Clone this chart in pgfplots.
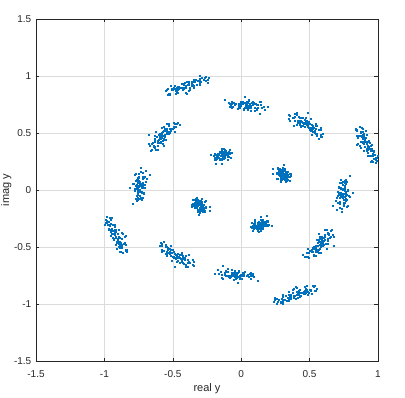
\documentclass[border=0pt]{standalone}
\usepackage{fontspec}
\setmainfont{Liberation Sans}
\usepackage{pgfplots}
\pgfplotsset{compat=1.18}
\definecolor{mblue}{RGB}{0,114,189}
\definecolor{axgray}{RGB}{38,38,38}
\begin{document}
\begin{tikzpicture}
\begin{axis}[
 width=342pt, height=342pt, scale only axis,
 xmin=-1.5, xmax=1, ymin=-1.5, ymax=1.5,
 xtick={-1.5,-1,-0.5,0,0.5,1}, xticklabels={-1.5,-1,-0.5,0,0.5,1},
 ytick={-1.5,-1,-0.5,0,0.5,1,1.5}, yticklabels={-1.5,-1,-0.5,0,0.5,1,1.5},
 grid=major, major grid style={draw=black!14, line width=0.4pt},
 axis line style={draw=axgray, line width=0.5pt},
 tick style={draw=axgray, line width=0.5pt}, major tick length=3.5pt,
 tick align=inside,
 ticklabel style={font=\fontsize{10}{12}\selectfont, text=axgray},
 xticklabel style={yshift=-5.7pt},
 yticklabel style={xshift=-1.2pt},
 xlabel={real y}, ylabel={imag y},
 label style={font=\fontsize{11}{13}\selectfont, text=axgray, inner sep=0pt},
 xlabel style={at={(axis description cs:0.5,-0.0658)}, anchor=north},
 ylabel style={at={(axis description cs:-0.0711,0.5)}, anchor=south},
 clip=true,
]
\addplot[only marks, mark=square*, mark size=0.5pt, color=mblue, mark options={draw=none, fill=mblue}] coordinates {
% corner D
(0.919,0.407) (0.917,0.363) (0.877,0.500) (0.965,0.276) (0.842,0.523) (0.951,0.400) (0.877,0.425) (0.946,0.356) (0.887,0.508) (0.957,0.257)
(0.887,0.419) (0.897,0.493) (0.949,0.341) (0.836,0.539) (0.923,0.325) (0.931,0.436) (0.978,0.306) (0.842,0.479) (0.925,0.381) (0.881,0.464)
(0.959,0.304) (0.872,0.476) (0.923,0.392) (0.933,0.428) (0.964,0.247) (0.862,0.472) (0.969,0.344) (0.895,0.407) (0.984,0.238) (0.867,0.553)
(0.922,0.305) (0.897,0.415) (0.901,0.380) (0.907,0.462) (0.951,0.297) (0.909,0.457) (0.953,0.345) (0.837,0.525) (0.953,0.352) (0.891,0.454)
(0.949,0.387) (0.877,0.373) (0.887,0.540) (0.945,0.246) (0.882,0.543) (0.941,0.360) (0.897,0.455) (0.916,0.346) (0.887,0.478) (0.987,0.287)
(0.847,0.399) (0.917,0.483) (0.929,0.381) (0.876,0.509) (0.893,0.345) (0.941,0.416) (0.968,0.336) (0.872,0.479) (0.885,0.421) (0.901,0.424)
(0.939,0.304) (0.912,0.516) (0.923,0.352) (0.903,0.458) (0.984,0.267) (0.852,0.462) (0.999,0.304) (0.855,0.407) (0.994,0.258) (0.847,0.533)
(0.962,0.315) (0.867,0.385) (0.921,0.420) (0.897,0.472) (0.981,0.287) (0.889,0.487) (0.953,0.365) (0.877,0.505) (0.923,0.362) (0.901,0.444)
% middle C
(0.477,0.571) (0.487,0.557) (0.427,0.634) (0.548,0.495) (0.383,0.632) (0.514,0.576) (0.429,0.575) (0.524,0.563) (0.432,0.631) (0.549,0.493)
(0.448,0.591) (0.448,0.634) (0.515,0.527) (0.374,0.634) (0.498,0.528) (0.485,0.590) (0.564,0.530) (0.391,0.609) (0.489,0.561) (0.434,0.610)
(0.539,0.518) (0.416,0.594) (0.491,0.582) (0.492,0.596) (0.553,0.478) (0.412,0.609) (0.542,0.542) (0.451,0.565) (0.583,0.486) (0.407,0.657)
(0.505,0.523) (0.449,0.565) (0.464,0.556) (0.457,0.594) (0.538,0.524) (0.467,0.621) (0.528,0.548) (0.380,0.638) (0.521,0.542) (0.444,0.600)
(0.437,0.551) (0.507,0.547) (0.407,0.674) (0.588,0.465) (0.353,0.652) (0.524,0.556) (0.419,0.605) (0.554,0.563) (0.392,0.671) (0.569,0.453)
(0.428,0.591) (0.488,0.674) (0.515,0.487) (0.344,0.664) (0.518,0.548) (0.475,0.580) (0.594,0.490) (0.351,0.609) (0.499,0.581) (0.414,0.590)
(0.579,0.528) (0.386,0.564) (0.511,0.622) (0.482,0.606) (0.583,0.468) (0.392,0.639) (0.542,0.562) (0.491,0.545) (0.553,0.496) (0.417,0.647)
(0.535,0.503) (0.409,0.575) (0.474,0.596) (0.437,0.564) (0.578,0.544) (0.457,0.581) (0.548,0.578) (0.350,0.628) (0.521,0.512) (0.474,0.630)
% middle E
(0.755,-0.035) (0.722,-0.067) (0.745,0.047) (0.746,-0.142) (0.733,0.064) (0.774,-0.037) (0.726,-0.023) (0.739,-0.070) (0.764,0.052) (0.720,-0.152)
(0.714,-0.020) (0.755,0.042) (0.763,-0.092) (0.740,0.076) (0.719,-0.102) (0.776,-0.010) (0.754,-0.109) (0.714,0.024) (0.743,-0.055) (0.735,0.015)
(0.747,-0.117) (0.754,0.019) (0.732,-0.040) (0.764,-0.013) (0.731,-0.164) (0.725,0.020) (0.771,-0.085) (0.735,-0.038) (0.735,-0.164) (0.762,0.092)
(0.706,-0.114) (0.746,-0.033) (0.724,-0.057) (0.775,0.007) (0.723,-0.117) (0.745,0.015) (0.749,-0.082) (0.723,0.067) (0.762,-0.080) (0.745,0.005)
(0.735,-0.035) (0.762,-0.027) (0.745,0.007) (0.716,-0.112) (0.753,0.084) (0.764,-0.047) (0.756,-0.063) (0.699,-0.070) (0.774,0.072) (0.700,-0.172)
(0.754,-0.010) (0.725,0.012) (0.783,-0.052) (0.730,0.086) (0.749,-0.112) (0.756,0.020) (0.754,-0.089) (0.754,0.004) (0.713,-0.045) (0.745,0.005)
(0.777,-0.137) (0.714,0.029) (0.742,0.000) (0.744,-0.043) (0.771,-0.144) (0.715,-0.020) (0.791,-0.055) (0.705,-0.048) (0.735,-0.194) (0.792,0.122)
(0.666,-0.134) (0.766,-0.043) (0.704,-0.017) (0.815,-0.023) (0.693,-0.097) (0.755,-0.005) (0.739,-0.052) (0.753,0.067) (0.722,-0.040) (0.765,-0.035)
% inner N
(0.312,0.129) (0.292,0.128) (0.293,0.180) (0.330,0.079) (0.276,0.176) (0.336,0.140) (0.278,0.128) (0.316,0.139) (0.310,0.177) (0.315,0.087)
(0.275,0.153) (0.306,0.184) (0.329,0.094) (0.282,0.175) (0.294,0.102) (0.330,0.145) (0.341,0.116) (0.262,0.154) (0.308,0.127) (0.287,0.161)
(0.327,0.096) (0.299,0.140) (0.300,0.151) (0.324,0.156) (0.324,0.070) (0.274,0.157) (0.343,0.115) (0.291,0.122) (0.339,0.088) (0.305,0.199)
(0.288,0.102) (0.298,0.118) (0.286,0.120) (0.323,0.140) (0.312,0.113) (0.302,0.179) (0.324,0.122) (0.268,0.183) (0.330,0.111) (0.297,0.151)
(0.352,0.139) (0.262,0.098) (0.313,0.220) (0.320,0.089) (0.306,0.166) (0.316,0.170) (0.278,0.148) (0.356,0.119) (0.280,0.187) (0.325,0.077)
(0.305,0.133) (0.266,0.194) (0.339,0.134) (0.262,0.145) (0.334,0.122) (0.320,0.105) (0.361,0.146) (0.232,0.144) (0.308,0.097) (0.317,0.191)
(0.287,0.076) (0.319,0.130) (0.280,0.191) (0.364,0.126) (0.294,0.090) (0.284,0.137) (0.333,0.145) (0.321,0.122) (0.299,0.128) (0.325,0.159)
(0.268,0.102) (0.338,0.158) (0.286,0.080) (0.293,0.170) (0.332,0.133) (0.292,0.169) (0.354,0.082) (0.228,0.183) (0.340,0.131) (0.277,0.131)
% corner A
(-0.407,0.919) (-0.363,0.917) (-0.500,0.877) (-0.276,0.965) (-0.523,0.842) (-0.400,0.951) (-0.425,0.877) (-0.356,0.946) (-0.508,0.887) (-0.257,0.957)
(-0.419,0.887) (-0.493,0.897) (-0.341,0.949) (-0.539,0.836) (-0.325,0.923) (-0.436,0.931) (-0.306,0.978) (-0.479,0.842) (-0.381,0.925) (-0.464,0.881)
(-0.304,0.959) (-0.476,0.872) (-0.392,0.923) (-0.428,0.933) (-0.247,0.964) (-0.472,0.862) (-0.344,0.969) (-0.407,0.895) (-0.238,0.984) (-0.553,0.867)
(-0.305,0.922) (-0.415,0.897) (-0.380,0.901) (-0.462,0.907) (-0.297,0.951) (-0.457,0.909) (-0.345,0.953) (-0.525,0.837) (-0.352,0.953) (-0.454,0.891)
(-0.387,0.949) (-0.373,0.877) (-0.540,0.887) (-0.246,0.945) (-0.543,0.882) (-0.360,0.941) (-0.455,0.897) (-0.346,0.916) (-0.478,0.887) (-0.287,0.987)
(-0.399,0.847) (-0.483,0.917) (-0.381,0.929) (-0.509,0.876) (-0.345,0.893) (-0.416,0.941) (-0.336,0.968) (-0.479,0.872) (-0.421,0.885) (-0.424,0.901)
(-0.304,0.939) (-0.516,0.912) (-0.352,0.923) (-0.458,0.903) (-0.267,0.984) (-0.462,0.852) (-0.304,0.999) (-0.407,0.855) (-0.258,0.994) (-0.533,0.847)
(-0.315,0.962) (-0.385,0.867) (-0.420,0.921) (-0.472,0.897) (-0.287,0.981) (-0.487,0.889) (-0.365,0.953) (-0.505,0.877) (-0.362,0.923) (-0.444,0.901)
% middle L
(-0.571,0.477) (-0.557,0.487) (-0.634,0.427) (-0.495,0.548) (-0.632,0.383) (-0.576,0.514) (-0.575,0.429) (-0.563,0.524) (-0.631,0.432) (-0.493,0.549)
(-0.591,0.448) (-0.634,0.448) (-0.527,0.515) (-0.634,0.374) (-0.528,0.498) (-0.590,0.485) (-0.530,0.564) (-0.609,0.391) (-0.561,0.489) (-0.610,0.434)
(-0.518,0.539) (-0.594,0.416) (-0.582,0.491) (-0.596,0.492) (-0.478,0.553) (-0.609,0.412) (-0.542,0.542) (-0.565,0.451) (-0.486,0.583) (-0.657,0.407)
(-0.523,0.505) (-0.565,0.449) (-0.556,0.464) (-0.594,0.457) (-0.524,0.538) (-0.621,0.467) (-0.548,0.528) (-0.638,0.380) (-0.542,0.521) (-0.600,0.444)
(-0.551,0.437) (-0.547,0.507) (-0.674,0.407) (-0.465,0.588) (-0.652,0.353) (-0.556,0.524) (-0.605,0.419) (-0.563,0.554) (-0.671,0.392) (-0.453,0.569)
(-0.591,0.428) (-0.674,0.488) (-0.487,0.515) (-0.664,0.344) (-0.548,0.518) (-0.580,0.475) (-0.490,0.594) (-0.609,0.351) (-0.581,0.499) (-0.590,0.414)
(-0.528,0.579) (-0.564,0.386) (-0.622,0.511) (-0.606,0.482) (-0.468,0.583) (-0.639,0.392) (-0.562,0.542) (-0.545,0.491) (-0.496,0.553) (-0.647,0.417)
(-0.503,0.535) (-0.575,0.409) (-0.596,0.474) (-0.564,0.437) (-0.544,0.578) (-0.581,0.457) (-0.578,0.548) (-0.628,0.350) (-0.512,0.521) (-0.630,0.474)
% middle B
(0.035,0.755) (0.067,0.722) (-0.047,0.745) (0.142,0.746) (-0.064,0.733) (0.037,0.774) (0.023,0.726) (0.070,0.739) (-0.052,0.764) (0.152,0.720)
(0.020,0.714) (-0.042,0.755) (0.092,0.763) (-0.076,0.740) (0.102,0.719) (0.010,0.776) (0.109,0.754) (-0.024,0.714) (0.055,0.743) (-0.015,0.735)
(0.117,0.747) (-0.019,0.754) (0.040,0.732) (0.013,0.764) (0.164,0.731) (-0.020,0.725) (0.085,0.771) (0.038,0.735) (0.164,0.735) (-0.092,0.762)
(0.114,0.706) (0.033,0.746) (0.057,0.724) (-0.007,0.775) (0.117,0.723) (-0.015,0.745) (0.082,0.749) (-0.067,0.723) (0.080,0.762) (-0.005,0.745)
(0.035,0.735) (0.027,0.762) (-0.007,0.745) (0.112,0.716) (-0.084,0.753) (0.047,0.764) (0.063,0.756) (0.070,0.699) (-0.072,0.774) (0.172,0.700)
(0.010,0.754) (-0.012,0.725) (0.052,0.783) (-0.086,0.730) (0.112,0.749) (-0.020,0.756) (0.089,0.754) (-0.004,0.754) (0.045,0.713) (-0.005,0.745)
(0.137,0.777) (-0.029,0.714) (0.000,0.742) (0.043,0.744) (0.144,0.771) (0.020,0.715) (0.055,0.791) (0.048,0.705) (0.194,0.735) (-0.122,0.792)
(0.134,0.666) (0.043,0.766) (0.017,0.704) (0.023,0.815) (0.097,0.693) (0.005,0.755) (0.052,0.739) (-0.067,0.753) (0.040,0.722) (0.035,0.765)
% inner M
(-0.129,0.312) (-0.128,0.292) (-0.180,0.293) (-0.079,0.330) (-0.176,0.276) (-0.140,0.336) (-0.128,0.278) (-0.139,0.316) (-0.177,0.310) (-0.087,0.315)
(-0.153,0.275) (-0.184,0.306) (-0.094,0.329) (-0.175,0.282) (-0.102,0.294) (-0.145,0.330) (-0.116,0.341) (-0.154,0.262) (-0.127,0.308) (-0.161,0.287)
(-0.096,0.327) (-0.140,0.299) (-0.151,0.300) (-0.156,0.324) (-0.070,0.324) (-0.157,0.274) (-0.115,0.343) (-0.122,0.291) (-0.088,0.339) (-0.199,0.305)
(-0.102,0.288) (-0.118,0.298) (-0.120,0.286) (-0.140,0.323) (-0.113,0.312) (-0.179,0.302) (-0.122,0.324) (-0.183,0.268) (-0.111,0.330) (-0.151,0.297)
(-0.139,0.352) (-0.098,0.262) (-0.220,0.313) (-0.089,0.320) (-0.166,0.306) (-0.170,0.316) (-0.148,0.278) (-0.119,0.356) (-0.187,0.280) (-0.077,0.325)
(-0.133,0.305) (-0.194,0.266) (-0.134,0.339) (-0.145,0.262) (-0.122,0.334) (-0.105,0.320) (-0.146,0.361) (-0.144,0.232) (-0.097,0.308) (-0.191,0.317)
(-0.076,0.287) (-0.130,0.319) (-0.191,0.280) (-0.126,0.364) (-0.090,0.294) (-0.137,0.284) (-0.145,0.333) (-0.122,0.321) (-0.128,0.299) (-0.159,0.325)
(-0.102,0.268) (-0.158,0.338) (-0.080,0.286) (-0.170,0.293) (-0.133,0.332) (-0.169,0.292) (-0.082,0.354) (-0.183,0.228) (-0.131,0.340) (-0.131,0.277)
% corner J
(-0.919,-0.407) (-0.917,-0.363) (-0.877,-0.500) (-0.965,-0.276) (-0.842,-0.523) (-0.951,-0.400) (-0.877,-0.425) (-0.946,-0.356) (-0.887,-0.508) (-0.957,-0.257)
(-0.887,-0.419) (-0.897,-0.493) (-0.949,-0.341) (-0.836,-0.539) (-0.923,-0.325) (-0.931,-0.436) (-0.978,-0.306) (-0.842,-0.479) (-0.925,-0.381) (-0.881,-0.464)
(-0.959,-0.304) (-0.872,-0.476) (-0.923,-0.392) (-0.933,-0.428) (-0.964,-0.247) (-0.862,-0.472) (-0.969,-0.344) (-0.895,-0.407) (-0.984,-0.238) (-0.867,-0.553)
(-0.922,-0.305) (-0.897,-0.415) (-0.901,-0.380) (-0.907,-0.462) (-0.951,-0.297) (-0.909,-0.457) (-0.953,-0.345) (-0.837,-0.525) (-0.953,-0.352) (-0.891,-0.454)
(-0.949,-0.387) (-0.877,-0.373) (-0.887,-0.540) (-0.945,-0.246) (-0.882,-0.543) (-0.941,-0.360) (-0.897,-0.455) (-0.916,-0.346) (-0.887,-0.478) (-0.987,-0.287)
(-0.847,-0.399) (-0.917,-0.483) (-0.929,-0.381) (-0.876,-0.509) (-0.893,-0.345) (-0.941,-0.416) (-0.968,-0.336) (-0.872,-0.479) (-0.885,-0.421) (-0.901,-0.424)
(-0.939,-0.304) (-0.912,-0.516) (-0.923,-0.352) (-0.903,-0.458) (-0.984,-0.267) (-0.852,-0.462) (-0.999,-0.304) (-0.855,-0.407) (-0.994,-0.258) (-0.847,-0.533)
(-0.962,-0.315) (-0.867,-0.385) (-0.921,-0.420) (-0.897,-0.472) (-0.981,-0.287) (-0.889,-0.487) (-0.953,-0.365) (-0.877,-0.505) (-0.923,-0.362) (-0.901,-0.444)
% middle I
(-0.477,-0.571) (-0.487,-0.557) (-0.427,-0.634) (-0.548,-0.495) (-0.383,-0.632) (-0.514,-0.576) (-0.429,-0.575) (-0.524,-0.563) (-0.432,-0.631) (-0.549,-0.493)
(-0.448,-0.591) (-0.448,-0.634) (-0.515,-0.527) (-0.374,-0.634) (-0.498,-0.528) (-0.485,-0.590) (-0.564,-0.530) (-0.391,-0.609) (-0.489,-0.561) (-0.434,-0.610)
(-0.539,-0.518) (-0.416,-0.594) (-0.491,-0.582) (-0.492,-0.596) (-0.553,-0.478) (-0.412,-0.609) (-0.542,-0.542) (-0.451,-0.565) (-0.583,-0.486) (-0.407,-0.657)
(-0.505,-0.523) (-0.449,-0.565) (-0.464,-0.556) (-0.457,-0.594) (-0.538,-0.524) (-0.467,-0.621) (-0.528,-0.548) (-0.380,-0.638) (-0.521,-0.542) (-0.444,-0.600)
(-0.437,-0.551) (-0.507,-0.547) (-0.407,-0.674) (-0.588,-0.465) (-0.353,-0.652) (-0.524,-0.556) (-0.419,-0.605) (-0.554,-0.563) (-0.392,-0.671) (-0.569,-0.453)
(-0.428,-0.591) (-0.488,-0.674) (-0.515,-0.487) (-0.344,-0.664) (-0.518,-0.548) (-0.475,-0.580) (-0.594,-0.490) (-0.351,-0.609) (-0.499,-0.581) (-0.414,-0.590)
(-0.579,-0.528) (-0.386,-0.564) (-0.511,-0.622) (-0.482,-0.606) (-0.583,-0.468) (-0.392,-0.639) (-0.542,-0.562) (-0.491,-0.545) (-0.553,-0.496) (-0.417,-0.647)
(-0.535,-0.503) (-0.409,-0.575) (-0.474,-0.596) (-0.437,-0.564) (-0.578,-0.544) (-0.457,-0.581) (-0.548,-0.578) (-0.350,-0.628) (-0.521,-0.512) (-0.474,-0.630)
% middle K
(-0.755,0.035) (-0.722,0.067) (-0.745,-0.047) (-0.746,0.142) (-0.733,-0.064) (-0.774,0.037) (-0.726,0.023) (-0.739,0.070) (-0.764,-0.052) (-0.720,0.152)
(-0.714,0.020) (-0.755,-0.042) (-0.763,0.092) (-0.740,-0.076) (-0.719,0.102) (-0.776,0.010) (-0.754,0.109) (-0.714,-0.024) (-0.743,0.055) (-0.735,-0.015)
(-0.747,0.117) (-0.754,-0.019) (-0.732,0.040) (-0.764,0.013) (-0.731,0.164) (-0.725,-0.020) (-0.771,0.085) (-0.735,0.038) (-0.735,0.164) (-0.762,-0.092)
(-0.706,0.114) (-0.746,0.033) (-0.724,0.057) (-0.775,-0.007) (-0.723,0.117) (-0.745,-0.015) (-0.749,0.082) (-0.723,-0.067) (-0.762,0.080) (-0.745,-0.005)
(-0.735,0.035) (-0.762,0.027) (-0.745,-0.007) (-0.716,0.112) (-0.753,-0.084) (-0.764,0.047) (-0.756,0.063) (-0.699,0.070) (-0.774,-0.072) (-0.700,0.172)
(-0.754,0.010) (-0.725,-0.012) (-0.783,0.052) (-0.730,-0.086) (-0.749,0.112) (-0.756,-0.020) (-0.754,0.089) (-0.754,-0.004) (-0.713,0.045) (-0.745,-0.005)
(-0.777,0.137) (-0.714,-0.029) (-0.742,0.000) (-0.744,0.043) (-0.771,0.144) (-0.715,0.020) (-0.791,0.055) (-0.705,0.048) (-0.735,0.194) (-0.792,-0.122)
(-0.666,0.134) (-0.766,0.043) (-0.704,0.017) (-0.815,0.023) (-0.693,0.097) (-0.755,0.005) (-0.739,0.052) (-0.753,-0.067) (-0.722,0.040) (-0.765,0.035)
% inner P
(-0.312,-0.129) (-0.292,-0.128) (-0.293,-0.180) (-0.330,-0.079) (-0.276,-0.176) (-0.336,-0.140) (-0.278,-0.128) (-0.316,-0.139) (-0.310,-0.177) (-0.315,-0.087)
(-0.275,-0.153) (-0.306,-0.184) (-0.329,-0.094) (-0.282,-0.175) (-0.294,-0.102) (-0.330,-0.145) (-0.341,-0.116) (-0.262,-0.154) (-0.308,-0.127) (-0.287,-0.161)
(-0.327,-0.096) (-0.299,-0.140) (-0.300,-0.151) (-0.324,-0.156) (-0.324,-0.070) (-0.274,-0.157) (-0.343,-0.115) (-0.291,-0.122) (-0.339,-0.088) (-0.305,-0.199)
(-0.288,-0.102) (-0.298,-0.118) (-0.286,-0.120) (-0.323,-0.140) (-0.312,-0.113) (-0.302,-0.179) (-0.324,-0.122) (-0.268,-0.183) (-0.330,-0.111) (-0.297,-0.151)
(-0.352,-0.139) (-0.262,-0.098) (-0.313,-0.220) (-0.320,-0.089) (-0.306,-0.166) (-0.316,-0.170) (-0.278,-0.148) (-0.356,-0.119) (-0.280,-0.187) (-0.325,-0.077)
(-0.305,-0.133) (-0.266,-0.194) (-0.339,-0.134) (-0.262,-0.145) (-0.334,-0.122) (-0.320,-0.105) (-0.361,-0.146) (-0.232,-0.144) (-0.308,-0.097) (-0.317,-0.191)
(-0.287,-0.076) (-0.319,-0.130) (-0.280,-0.191) (-0.364,-0.126) (-0.294,-0.090) (-0.284,-0.137) (-0.333,-0.145) (-0.321,-0.122) (-0.299,-0.128) (-0.325,-0.159)
(-0.268,-0.102) (-0.338,-0.158) (-0.286,-0.080) (-0.293,-0.170) (-0.332,-0.133) (-0.292,-0.169) (-0.354,-0.082) (-0.228,-0.183) (-0.340,-0.131) (-0.277,-0.131)
% corner G
(0.407,-0.919) (0.363,-0.917) (0.500,-0.877) (0.276,-0.965) (0.523,-0.842) (0.400,-0.951) (0.425,-0.877) (0.356,-0.946) (0.508,-0.887) (0.257,-0.957)
(0.419,-0.887) (0.493,-0.897) (0.341,-0.949) (0.539,-0.836) (0.325,-0.923) (0.436,-0.931) (0.306,-0.978) (0.479,-0.842) (0.381,-0.925) (0.464,-0.881)
(0.304,-0.959) (0.476,-0.872) (0.392,-0.923) (0.428,-0.933) (0.247,-0.964) (0.472,-0.862) (0.344,-0.969) (0.407,-0.895) (0.238,-0.984) (0.553,-0.867)
(0.305,-0.922) (0.415,-0.897) (0.380,-0.901) (0.462,-0.907) (0.297,-0.951) (0.457,-0.909) (0.345,-0.953) (0.525,-0.837) (0.352,-0.953) (0.454,-0.891)
(0.387,-0.949) (0.373,-0.877) (0.540,-0.887) (0.246,-0.945) (0.543,-0.882) (0.360,-0.941) (0.455,-0.897) (0.346,-0.916) (0.478,-0.887) (0.287,-0.987)
(0.399,-0.847) (0.483,-0.917) (0.381,-0.929) (0.509,-0.876) (0.345,-0.893) (0.416,-0.941) (0.336,-0.968) (0.479,-0.872) (0.421,-0.885) (0.424,-0.901)
(0.304,-0.939) (0.516,-0.912) (0.352,-0.923) (0.458,-0.903) (0.267,-0.984) (0.462,-0.852) (0.304,-0.999) (0.407,-0.855) (0.258,-0.994) (0.533,-0.847)
(0.315,-0.962) (0.385,-0.867) (0.420,-0.921) (0.472,-0.897) (0.287,-0.981) (0.487,-0.889) (0.365,-0.953) (0.505,-0.877) (0.362,-0.923) (0.444,-0.901)
% middle F
(0.571,-0.477) (0.557,-0.487) (0.634,-0.427) (0.495,-0.548) (0.632,-0.383) (0.576,-0.514) (0.575,-0.429) (0.563,-0.524) (0.631,-0.432) (0.493,-0.549)
(0.591,-0.448) (0.634,-0.448) (0.527,-0.515) (0.634,-0.374) (0.528,-0.498) (0.590,-0.485) (0.530,-0.564) (0.609,-0.391) (0.561,-0.489) (0.610,-0.434)
(0.518,-0.539) (0.594,-0.416) (0.582,-0.491) (0.596,-0.492) (0.478,-0.553) (0.609,-0.412) (0.542,-0.542) (0.565,-0.451) (0.486,-0.583) (0.657,-0.407)
(0.523,-0.505) (0.565,-0.449) (0.556,-0.464) (0.594,-0.457) (0.524,-0.538) (0.621,-0.467) (0.548,-0.528) (0.638,-0.380) (0.542,-0.521) (0.600,-0.444)
(0.551,-0.437) (0.547,-0.507) (0.674,-0.407) (0.465,-0.588) (0.652,-0.353) (0.556,-0.524) (0.605,-0.419) (0.563,-0.554) (0.671,-0.392) (0.453,-0.569)
(0.591,-0.428) (0.674,-0.488) (0.487,-0.515) (0.664,-0.344) (0.548,-0.518) (0.580,-0.475) (0.490,-0.594) (0.609,-0.351) (0.581,-0.499) (0.590,-0.414)
(0.528,-0.579) (0.564,-0.386) (0.622,-0.511) (0.606,-0.482) (0.468,-0.583) (0.639,-0.392) (0.562,-0.542) (0.545,-0.491) (0.496,-0.553) (0.647,-0.417)
(0.503,-0.535) (0.575,-0.409) (0.596,-0.474) (0.564,-0.437) (0.544,-0.578) (0.581,-0.457) (0.578,-0.548) (0.628,-0.350) (0.512,-0.521) (0.630,-0.474)
% middle H
(-0.035,-0.755) (-0.067,-0.722) (0.047,-0.745) (-0.142,-0.746) (0.064,-0.733) (-0.037,-0.774) (-0.023,-0.726) (-0.070,-0.739) (0.052,-0.764) (-0.152,-0.720)
(-0.020,-0.714) (0.042,-0.755) (-0.092,-0.763) (0.076,-0.740) (-0.102,-0.719) (-0.010,-0.776) (-0.109,-0.754) (0.024,-0.714) (-0.055,-0.743) (0.015,-0.735)
(-0.117,-0.747) (0.019,-0.754) (-0.040,-0.732) (-0.013,-0.764) (-0.164,-0.731) (0.020,-0.725) (-0.085,-0.771) (-0.038,-0.735) (-0.164,-0.735) (0.092,-0.762)
(-0.114,-0.706) (-0.033,-0.746) (-0.057,-0.724) (0.007,-0.775) (-0.117,-0.723) (0.015,-0.745) (-0.082,-0.749) (0.067,-0.723) (-0.080,-0.762) (0.005,-0.745)
(-0.035,-0.735) (-0.027,-0.762) (0.007,-0.745) (-0.112,-0.716) (0.084,-0.753) (-0.047,-0.764) (-0.063,-0.756) (-0.070,-0.699) (0.072,-0.774) (-0.172,-0.700)
(-0.010,-0.754) (0.012,-0.725) (-0.052,-0.783) (0.086,-0.730) (-0.112,-0.749) (0.020,-0.756) (-0.089,-0.754) (0.004,-0.754) (-0.045,-0.713) (0.005,-0.745)
(-0.137,-0.777) (0.029,-0.714) (0.000,-0.742) (-0.043,-0.744) (-0.144,-0.771) (-0.020,-0.715) (-0.055,-0.791) (-0.048,-0.705) (-0.194,-0.735) (0.122,-0.792)
(-0.134,-0.666) (-0.043,-0.766) (-0.017,-0.704) (-0.023,-0.815) (-0.097,-0.693) (-0.005,-0.755) (-0.052,-0.739) (0.067,-0.753) (-0.040,-0.722) (-0.035,-0.765)
% inner O
(0.129,-0.312) (0.128,-0.292) (0.180,-0.293) (0.079,-0.330) (0.176,-0.276) (0.140,-0.336) (0.128,-0.278) (0.139,-0.316) (0.177,-0.310) (0.087,-0.315)
(0.153,-0.275) (0.184,-0.306) (0.094,-0.329) (0.175,-0.282) (0.102,-0.294) (0.145,-0.330) (0.116,-0.341) (0.154,-0.262) (0.127,-0.308) (0.161,-0.287)
(0.096,-0.327) (0.140,-0.299) (0.151,-0.300) (0.156,-0.324) (0.070,-0.324) (0.157,-0.274) (0.115,-0.343) (0.122,-0.291) (0.088,-0.339) (0.199,-0.305)
(0.102,-0.288) (0.118,-0.298) (0.120,-0.286) (0.140,-0.323) (0.113,-0.312) (0.179,-0.302) (0.122,-0.324) (0.183,-0.268) (0.111,-0.330) (0.151,-0.297)
(0.139,-0.352) (0.098,-0.262) (0.220,-0.313) (0.089,-0.320) (0.166,-0.306) (0.170,-0.316) (0.148,-0.278) (0.119,-0.356) (0.187,-0.280) (0.077,-0.325)
(0.133,-0.305) (0.194,-0.266) (0.134,-0.339) (0.145,-0.262) (0.122,-0.334) (0.105,-0.320) (0.146,-0.361) (0.144,-0.232) (0.097,-0.308) (0.191,-0.317)
(0.076,-0.287) (0.130,-0.319) (0.191,-0.280) (0.126,-0.364) (0.090,-0.294) (0.137,-0.284) (0.145,-0.333) (0.122,-0.321) (0.128,-0.299) (0.159,-0.325)
(0.102,-0.268) (0.158,-0.338) (0.080,-0.286) (0.170,-0.293) (0.133,-0.332) (0.169,-0.292) (0.082,-0.354) (0.183,-0.228) (0.131,-0.340) (0.131,-0.277)
};
\end{axis}
\pgfresetboundingbox
\path (current axis.south west) ++(-36pt,-36pt) rectangle ++(405pt,397pt);
\end{tikzpicture}
\end{document}
